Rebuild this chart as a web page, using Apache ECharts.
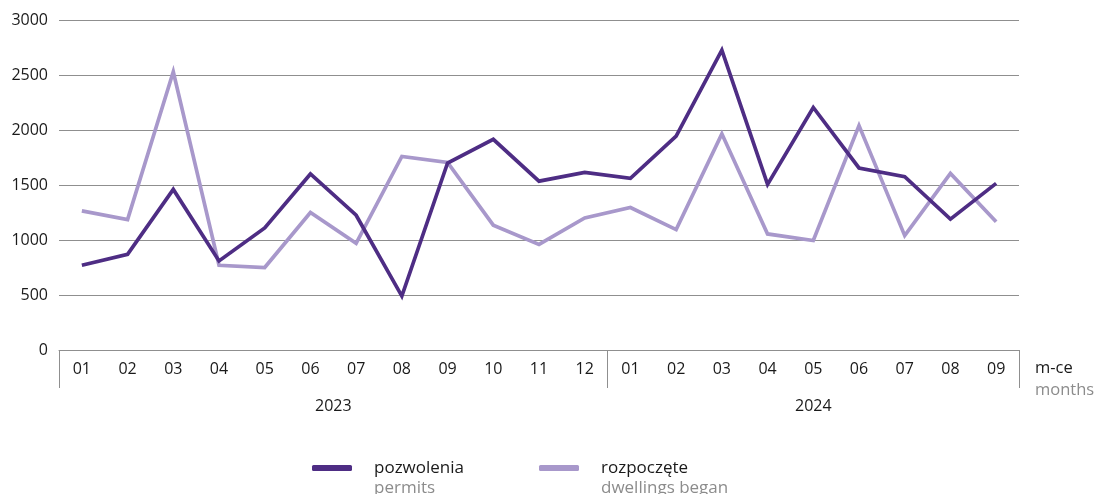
<!DOCTYPE html>
<html>
<head>
<meta charset="utf-8">
<script src="https://cdn.jsdelivr.net/npm/echarts@6/dist/echarts.min.js"></script>
<style>
  html, body { margin: 0; padding: 0; background: #fff; }
  #chart { width: 1095px; height: 494px; }
</style>
</head>
<body>
<div id="chart"></div>
<script>
// Monthly dwellings: building permits vs. dwellings started, 2023-01 .. 2024-09
const months = ['01','02','03','04','05','06','07','08','09','10','11','12',
                '01','02','03','04','05','06','07','08','09'];
const years = ['2023', '2024'];
const monthsPerYear = [12, 9];
const yTicks = [0, 500, 1000, 1500, 2000, 2500, 3000];

const seriesNames = ['pozwolenia', 'rozpoczęte'];
const seriesSubtitles = ['permits', 'dwellings began'];

const permits = [770, 870, 1460, 810, 1110, 1600, 1225, 490, 1700, 1915, 1535, 1615,
                 1560, 1945, 2725, 1505, 2205, 1655, 1575, 1190, 1515];
const began = [1265, 1185, 2530, 770, 750, 1250, 970, 1760, 1705, 1135, 960, 1200,
               1295, 1095, 1965, 1055, 995, 2040, 1040, 1605, 1165];

const FONT = '"Open Sans", "Noto Sans", sans-serif';
const DARK = '#4e2d84';
const LIGHT = '#a898cb';
const GRID_GREY = '#8f8f8f';
const TEXT = '#1a1a1a';
const SUB = '#8c8c8c';
const FS = 16;

// index of the first month of each year -> separator ticks
const yearStarts = [];
// centre (in category units) of each year's block -> year labels
const yearCentres = [];
let acc = 0;
monthsPerYear.forEach(n => {
  yearStarts.push(acc);
  yearCentres.push(acc + (n - 1) / 2);
  acc += n;
});

const chart = echarts.init(document.getElementById('chart'), null, { renderer: 'canvas' });

chart.setOption({
  animation: false,
  textStyle: { fontFamily: FONT },
  grid: { left: 59, right: 76, top: 20, bottom: 144, containLabel: false },
  xAxis: [
    {
      type: 'category',
      data: months,
      boundaryGap: true,
      axisLine: { show: true, lineStyle: { color: GRID_GREY, width: 1 } },
      axisTick: {
        show: true,
        length: 38,
        interval: (index) => yearStarts.indexOf(index) !== -1,
        lineStyle: { color: GRID_GREY, width: 1 }
      },
      axisLabel: { interval: 0, margin: 11, fontSize: FS, color: TEXT, fontFamily: FONT },
      splitLine: { show: false }
    },
    {
      type: 'value',
      position: 'bottom',
      min: -0.5,
      max: months.length - 0.5,
      axisLine: { show: false },
      axisTick: { show: false },
      splitLine: { show: false },
      axisLabel: {
        customValues: yearCentres,
        formatter: (v) => years[yearCentres.indexOf(v)] || '',
        margin: 48,
        fontSize: FS,
        color: TEXT,
        fontFamily: FONT
      }
    }
  ],
  yAxis: {
    type: 'value',
    min: yTicks[0],
    max: yTicks[yTicks.length - 1],
    interval: yTicks[1] - yTicks[0],
    axisLine: { show: false },
    axisTick: { show: false },
    axisLabel: {
      margin: 11,
      fontSize: FS,
      color: TEXT,
      fontFamily: FONT,
      formatter: (v) => String(v)
    },
    splitLine: { show: true, lineStyle: { color: GRID_GREY, width: 1 } }
  },
  legend: {
    data: seriesNames,
    left: 312,
    top: 459.5,
    padding: 0,
    itemGap: 15,
    itemWidth: 40,
    itemHeight: 6,
    icon: 'roundRect',
    formatter: (name) => '{a|' + name + '}\n{b|' + seriesSubtitles[seriesNames.indexOf(name)] + '}',
    textStyle: {
      fontFamily: FONT,
      padding: [20, 0, 0, 17],
      rich: {
        a: { fontSize: 17, color: TEXT, lineHeight: 20, width: 150, fontFamily: FONT },
        b: { fontSize: 17, color: SUB, lineHeight: 20, width: 150, fontFamily: FONT }
      }
    }
  },
  graphic: [
    {
      type: 'text',
      left: 1035,
      top: 360,
      style: {
        text: '{a|m-ce}\n{b|months}',
        rich: {
          a: { fontSize: 16.5, fill: TEXT, lineHeight: 22, fontFamily: FONT },
          b: { fontSize: 16.5, fill: SUB, lineHeight: 22, fontFamily: FONT }
        }
      }
    }
  ],
  series: [
    {
      name: seriesNames[0],
      type: 'line',
      data: permits,
      xAxisIndex: 0,
      showSymbol: false,
      symbol: 'none',
      itemStyle: { color: DARK },
      lineStyle: { color: DARK, width: 3.7, join: 'miter' },
      z: 3
    },
    {
      name: seriesNames[1],
      type: 'line',
      data: began,
      xAxisIndex: 0,
      showSymbol: false,
      symbol: 'none',
      itemStyle: { color: LIGHT },
      lineStyle: { color: LIGHT, width: 3.7, join: 'miter' },
      z: 2
    }
  ]
});
</script>
</body>
</html>
